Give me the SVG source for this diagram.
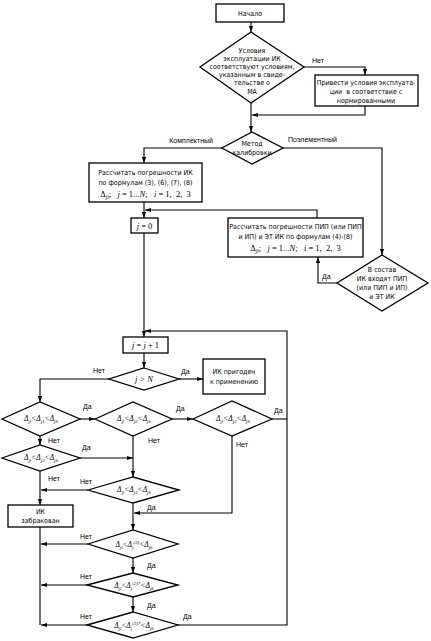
<svg xmlns="http://www.w3.org/2000/svg" width="431" height="641" viewBox="0 0 431 641">
<defs>
<marker id="ar" viewBox="0 0 10 10" refX="10" refY="5" markerWidth="6" markerHeight="6" orient="auto" markerUnits="userSpaceOnUse">
<path d="M0,1.5 L10,5 L0,8.5 Z" fill="#000"/>
</marker>
<style>
.b{fill:#fff;stroke:#000;stroke-width:1.3}
.c{fill:none;stroke:#000;stroke-width:1.1}
.ca{fill:none;stroke:#000;stroke-width:1.1;marker-end:url(#ar)}
.t{font-family:"Liberation Sans Narrow","DejaVu Sans Condensed","Liberation Sans",sans-serif;font-size:7px;text-anchor:middle;fill:#000}
.l{font-family:"Liberation Sans","Arial",sans-serif;font-size:7px;fill:#000}
.m{font-family:"Liberation Serif",serif;font-size:8.5px;text-anchor:middle;fill:#000}
.d{font-family:"Liberation Serif",serif;font-style:italic;font-size:7.5px;text-anchor:middle;fill:#000}
.i{font-style:italic}
</style>
</defs>
<rect width="431" height="641" fill="#fff"/>

<g id="connectors">
<path class="ca" d="M251,22 V32"/>
<path class="ca" d="M303,67 H365 V75"/>
<path class="ca" d="M365,106 V115 H252"/>
<path class="ca" d="M251,102 V132"/>
<path class="ca" d="M222,148 H144 V163"/>
<path class="ca" d="M283,148 H382 V255"/>
<path class="ca" d="M144,202 V218"/>
<path class="ca" d="M317,218 V210 H145"/>
<path class="ca" d="M337,283 H318 V257"/>
<path class="ca" d="M144,233 V337"/>
<path class="ca" d="M178,625 H287 V331 H145"/>
<path class="ca" d="M144,353 V368"/>
<path class="ca" d="M179,379 H203"/>
<path class="ca" d="M109,379 H40 V402"/>
<path class="ca" d="M80,419 H95"/>
<path class="ca" d="M172,419 H193"/>
<path class="c" d="M272,419 H287"/>
<path class="ca" d="M40,436 V445"/>
<path class="ca" d="M133,436 V477"/>
<path class="ca" d="M80,458 H133"/>
<path class="ca" d="M232,436 V513 H134"/>
<path class="ca" d="M88,490 H41"/>
<path class="ca" d="M40,471 V505"/>
<path class="ca" d="M133,503 V530"/>
<path class="c" d="M40,527 V625"/>
<path class="ca" d="M88,544 H41"/>
<path class="ca" d="M133,558 V573"/>
<path class="ca" d="M87,585 H41"/>
<path class="ca" d="M133,597 V612"/>
<path class="ca" d="M87,625 H41"/>
</g>

<g id="labels">
<text class="l" x="312" y="63">Нет</text>
<text class="l" x="213" y="143" text-anchor="end">Комплектный</text>
<text class="l" x="288" y="142">Поэлементный</text>
<text class="l" x="322" y="279">Да</text>
<text class="l" x="93" y="373">Нет</text>
<text class="l" x="181" y="374">Да</text>
<text class="l" x="83" y="409">Да</text>
<text class="l" x="176" y="411">Да</text>
<text class="l" x="274" y="413">Да</text>
<text class="l" x="48" y="443">Нет</text>
<text class="l" x="148" y="443">Нет</text>
<text class="l" x="236" y="447">Нет</text>
<text class="l" x="82" y="450">Да</text>
<text class="l" x="48" y="481">Нет</text>
<text class="l" x="80" y="484">Нет</text>
<text class="l" x="147" y="510">Да</text>
<text class="l" x="80" y="539">Нет</text>
<text class="l" x="147" y="568">Да</text>
<text class="l" x="80" y="579">Нет</text>
<text class="l" x="147" y="608">Да</text>
<text class="l" x="80" y="619">Нет</text>
<text class="l" x="183" y="619">Да</text>
</g>

<g id="start">
<rect class="b" x="216" y="4" width="68" height="18"/>
<text class="t" x="250" y="16">Начало</text>
</g>

<g id="cond">
<polygon class="b" points="251,32 304,67 251,103 200,67"/>
<text class="t" x="252" y="53">Условия</text>
<text class="t" x="252" y="61">эксплуатации ИК</text>
<text class="t" x="252" y="69">соответствуют условиям,</text>
<text class="t" x="252" y="77">указанным в свиде-</text>
<text class="t" x="252" y="85">тельстве о</text>
<text class="t" x="252" y="94">МА</text>
</g>

<g id="fix">
<rect class="b" x="315" y="75" width="103" height="31"/>
<text class="t" x="366" y="85">Привести условия эксплуата-</text>
<text class="t" x="366" y="94" xml:space="preserve">ции  в соответствие с</text>
<text class="t" x="366" y="103">нормированными</text>
</g>

<g id="method">
<polygon class="b" points="252,132 283,148 252,164 222,148"/>
<text class="t" x="252" y="146">Метод</text>
<text class="t" x="252" y="155">калибровки</text>
</g>

<g id="calcIK">
<rect class="b" x="89" y="163" width="113" height="39"/>
<text class="t" x="145.5" y="175">Рассчитать погрешности ИК</text>
<text class="t" x="145.5" y="185">по формулам (3), (6), (7), (8)</text>
<text class="m" x="145.5" y="197" xml:space="preserve">Δ<tspan dy="1.5" font-size="5.5" class="i">ji</tspan><tspan dy="-1.5">;   </tspan><tspan class="i">j</tspan> = 1...<tspan class="i">N</tspan>;   <tspan class="i">i</tspan> = 1,  2,  3</text>
</g>

<g id="j0">
<rect class="b" x="131" y="218" width="27" height="15"/>
<text class="m" x="144.5" y="229"><tspan class="i">j</tspan> = 0</text>
</g>

<g id="calcPIP">
<rect class="b" x="228" y="218" width="135" height="39"/>
<text class="t" x="295.5" y="229">Рассчитать погрешности ПИП (или ПИП</text>
<text class="t" x="295.5" y="239">и ИП) и ЭТ ИК по формулам (4)-(8)</text>
<text class="m" x="295.5" y="251" xml:space="preserve">Δ<tspan dy="1.5" font-size="5.5" class="i">ji</tspan><tspan dy="-1.5">;   </tspan><tspan class="i">j</tspan> = 1...<tspan class="i">N</tspan>;   <tspan class="i">i</tspan> = 1,  2,  3</text>
</g>

<g id="pipCheck">
<polygon class="b" points="382,255 428,283 382,311 337,283"/>
<text class="t" x="382" y="272">В состав</text>
<text class="t" x="382" y="281">ИК входят ПИП</text>
<text class="t" x="382" y="290">(или ПИП и ИП)</text>
<text class="t" x="382" y="299">и ЭТ ИК</text>
</g>

<g id="jinc">
<rect class="b" x="123" y="337" width="45" height="16"/>
<text class="m" x="145.5" y="348"><tspan class="i">j</tspan> = <tspan class="i">j</tspan> + 1</text>
</g>

<g id="jN">
<polygon class="b" points="144,368 179,379 144,390 109,379"/>
<text class="m" x="144" y="382" font-style="italic">j &gt; N</text>
</g>

<g id="ok">
<rect class="b" x="203" y="359" width="62" height="35"/>
<text class="t" x="234" y="374">ИК пригоден</text>
<text class="t" x="234" y="384">к применению</text>
</g>

<g id="d1">
<polygon class="b" points="2,419 40,402 80,419 40,436"/>
<text class="d" x="41" y="421">Δ<tspan dy="1.5" font-size="5">jl</tspan><tspan dy="-1.5">&lt;Δ</tspan><tspan dy="1.5" font-size="5">j1</tspan><tspan dy="-1.5">&lt;Δ</tspan><tspan dy="1.5" font-size="5">jh</tspan></text>
</g>

<g id="d2">
<polygon class="b" points="95,419 133,402 172,419 133,436"/>
<text class="d" x="134" y="421">Δ<tspan dy="1.5" font-size="5">jl</tspan><tspan dy="-1.5">&lt;Δ</tspan><tspan dy="1.5" font-size="5">j2</tspan><tspan dy="-1.5">&lt;Δ</tspan><tspan dy="1.5" font-size="5">jh</tspan></text>
</g>

<g id="d3">
<polygon class="b" points="193,419 232,401 272,419 232,436"/>
<text class="d" x="233" y="421">Δ<tspan dy="1.5" font-size="5">jl</tspan><tspan dy="-1.5">&lt;Δ</tspan><tspan dy="1.5" font-size="5">j3</tspan><tspan dy="-1.5">&lt;Δ</tspan><tspan dy="1.5" font-size="5">jh</tspan></text>
</g>

<g id="d4">
<polygon class="b" points="2,458 40,445 80,458 40,471"/>
<text class="d" x="41" y="460">Δ<tspan dy="1.5" font-size="5">jl</tspan><tspan dy="-1.5">&lt;Δ</tspan><tspan dy="1.5" font-size="5">j2</tspan><tspan dy="-1.5">&lt;Δ</tspan><tspan dy="1.5" font-size="5">jh</tspan></text>
</g>

<g id="d5">
<polygon class="b" points="88,490 133,477 179,490 133,503"/>
<text class="d" x="134" y="492">Δ<tspan dy="1.5" font-size="5">jl</tspan><tspan dy="-1.5">&lt;Δ</tspan><tspan dy="1.5" font-size="5">j3</tspan><tspan dy="-1.5">&lt;Δ</tspan><tspan dy="1.5" font-size="5">jh</tspan></text>
</g>

<g id="reject">
<rect class="b" x="8" y="505" width="65" height="22"/>
<text class="t" x="40.5" y="514">ИК</text>
<text class="t" x="40.5" y="523">забракован</text>
</g>

<g id="d6">
<polygon class="b" points="88,544 133,530 178,544 133,558"/>
<text class="d" x="134" y="547">Δ<tspan dy="1.5" font-size="5">jl</tspan><tspan dy="-1.5">&lt;Δ</tspan><tspan dy="1.5" font-size="5">j</tspan><tspan dy="-5" font-size="5">(3)</tspan><tspan dy="3.5">&lt;Δ</tspan><tspan dy="1.5" font-size="5">jh</tspan></text>
</g>

<g id="d7">
<polygon class="b" points="87,585 133,573 178,585 133,597"/>
<text class="d" x="134" y="588">Δ<tspan dy="1.5" font-size="5">jl</tspan><tspan dy="-1.5">&lt;Δ</tspan><tspan dy="1.5" font-size="5">j</tspan><tspan dy="-5" font-size="5">(2)*</tspan><tspan dy="3.5">&lt;Δ</tspan><tspan dy="1.5" font-size="5">jh</tspan></text>
</g>

<g id="d8">
<polygon class="b" points="87,625 133,612 178,625 133,638"/>
<text class="d" x="134" y="628">Δ<tspan dy="1.5" font-size="5">jl</tspan><tspan dy="-1.5">&lt;Δ</tspan><tspan dy="1.5" font-size="5">j</tspan><tspan dy="-5" font-size="5">(3)*</tspan><tspan dy="3.5">&lt;Δ</tspan><tspan dy="1.5" font-size="5">jh</tspan></text>
</g>
</svg>
